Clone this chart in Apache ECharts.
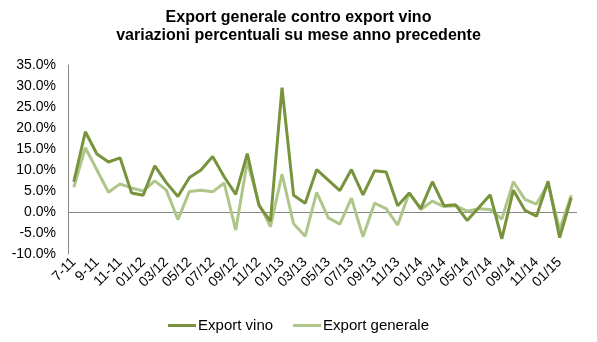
<!DOCTYPE html>
<html>
<head>
<meta charset="utf-8">
<script src="https://cdn.jsdelivr.net/npm/echarts@6/dist/echarts.min.js"></script>
<style>
html,body{margin:0;padding:0;background:#fff;}
#chart{width:597px;height:342px;}
</style>
</head>
<body>
<div id="chart"></div>
<script>
const categories = ["7-11","8-11","9-11","10-11","11-11","12-11",
  "01/12","02/12","03/12","04/12","05/12","06/12","07/12","08/12","09/12","10/12","11/12","12/12",
  "01/13","02/13","03/13","04/13","05/13","06/13","07/13","08/13","09/13","10/13","11/13","12/13",
  "01/14","02/14","03/14","04/14","05/14","06/14","07/14","08/14","09/14","10/14","11/14","12/14",
  "01/15","02/15"];
const exportVino = [7.2,19.1,13.8,11.9,12.9,4.5,4.0,11.0,7.0,3.7,8.2,10.0,13.2,8.4,4.2,13.9,1.6,-2.2,
  29.6,4.0,2.1,10.1,7.6,5.1,10.1,4.1,9.8,9.5,1.5,4.5,0.8,7.2,1.5,1.7,-2.0,1.0,4.1,-6.4,5.2,0.4,-1.0,7.3,-6.1,3.4];
const exportGenerale = [5.9,15.3,10.0,4.7,6.7,5.7,5.0,7.4,5.2,-1.8,4.9,5.2,4.8,6.9,-4.3,12.0,2.0,-3.5,
  9.0,-2.8,-5.8,4.7,-1.4,-2.9,3.3,-5.9,2.1,0.8,-3.1,4.6,0.6,2.6,1.3,1.5,0.2,0.8,0.6,-1.7,7.2,3.0,1.9,6.7,-4.2,4.0];
const yTicks = {min:-10, max:35, interval:5};

const chart = echarts.init(document.getElementById('chart'), null, {renderer:'canvas'});
const font = 'Liberation Sans, Arial, sans-serif';
chart.setOption({
  animation:false,
  backgroundColor:'#ffffff',
  textStyle:{fontFamily:font},
  title:{
    text:'Export generale contro export vino\nvariazioni percentuali su mese anno precedente',
    left:'center', top:4,
    textStyle:{fontSize:16, fontWeight:'bold', color:'#000', fontFamily:font, lineHeight:18}
  },
  grid:{left:68, right:20, top:65, bottom:88},
  legend:{
    top:313, left:'center',
    icon:'rect', itemWidth:28, itemHeight:3, itemGap:20,
    textStyle:{fontSize:15, color:'#000', fontFamily:font, padding:[0,0,0,-3]},
    data:['Export vino','Export generale']
  },
  xAxis:{
    type:'category', data:categories, boundaryGap:true,
    axisLine:{show:false, onZero:false},
    axisTick:{show:false},
    axisLabel:{interval:1, rotate:45, fontSize:14, color:'#000', margin:6, fontFamily:font}
  },
  yAxis:{
    type:'value', min:yTicks.min, max:yTicks.max, interval:yTicks.interval,
    axisLine:{show:true, lineStyle:{color:'#868686', width:1}},
    axisTick:{show:false},
    splitLine:{show:false},
    axisLabel:{formatter:v=>v.toFixed(1)+'%', fontSize:14, color:'#000', margin:12, fontFamily:font}
  },
  series:[
    {
      name:'Export vino', type:'line', data:exportVino, symbol:'none', showSymbol:false,
      lineStyle:{color:'#77933C', width:3}, itemStyle:{color:'#77933C'}, z:3,
      markLine:{silent:true, symbol:['none','none'], label:{show:false},
        lineStyle:{color:'#868686', width:1, type:'solid'}, data:[{yAxis:0}], z:1}
    },
    {
      name:'Export generale', type:'line', data:exportGenerale, symbol:'none', showSymbol:false,
      lineStyle:{color:'#AEC68A', width:3}, itemStyle:{color:'#AEC68A'}, z:2
    }
  ]
});
</script>
</body>
</html>
